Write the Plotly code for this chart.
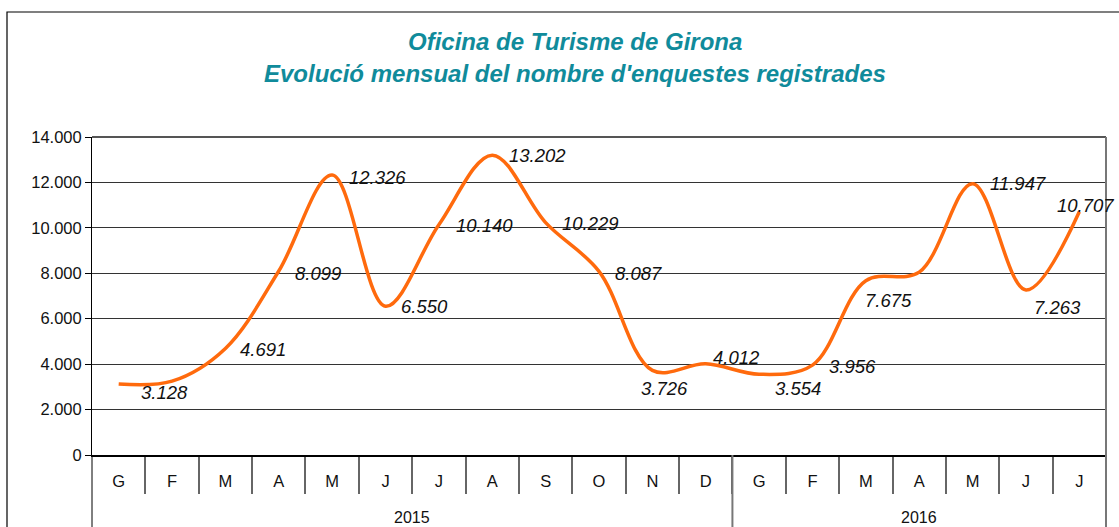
import plotly.graph_objects as go

# monthly survey counts, Jan 2015 .. Jul 2016
months = ["G", "F", "M", "A", "M", "J", "J", "A", "S", "O", "N", "D",
          "G", "F", "M", "A", "M", "J", "J"]
years = ["2015", "2016"]
year_len = [12, 7]
surveys = [3128, 3250, 4691, 8099, 12326, 6550, 10140, 13202, 10229, 8087, 3726, 4012,
           3554, 3956, 7675, 8050, 11947, 7263, 10707]
labels = ["3.128", "", "4.691", "8.099", "12.326", "6.550", "10.140", "13.202", "10.229",
          "8.087", "3.726", "4.012", "3.554", "3.956", "7.675", "", "11.947", "7.263", "10.707"]

# label offsets in px (style only)
label_shift = [(46, -9), (0, 0), (38, -1), (39, -2), (45, -2), (39, 0), (46, -1), (45, 0),
               (45, -1), (39, -2), (12, -18), (31, 6), (39, -14), (40, -1), (23, -20),
               (0, 0), (45, 0), (32, -17), (6, 6)]

W, H = 1119, 527
ML, MR, MT, MB = 92, 13, 137, 72
PW, PH = W - ML - MR, H - MT - MB
n = len(surveys)
FONT = "Liberation Sans, Arial, sans-serif"
TEAL = "#108B9B"


def px_x(p):
    return (p - ML) / PW


def px_y(p):
    return (H - MB - p) / PH


fig = go.Figure()
fig.add_trace(go.Scatter(
    x=list(range(n)), y=surveys, mode="lines",
    line=dict(color="#FF6A0D", width=3.5, shape="spline", smoothing=1.0),
    hoverinfo="skip", showlegend=False,
))

for i, (t, (dx, dy)) in enumerate(zip(labels, label_shift)):
    if not t:
        continue
    fig.add_annotation(x=i, y=surveys[i], text=t, showarrow=False,
                       xshift=dx, yshift=dy, xanchor="center", yanchor="middle",
                       font=dict(family=FONT, size=18.5, color="#111", style="italic"))

# year labels + group dividers
start = 0
for yr, ln in zip(years, year_len):
    mid = (start + (start + ln)) / 2
    fig.add_annotation(x=mid / n, xref="paper", y=0, yref="paper", yshift=-62,
                       text=yr, showarrow=False, xanchor="center", yanchor="middle",
                       font=dict(family=FONT, size=16, color="#111"))
    start += ln
    if start < n:
        fig.add_shape(type="line", xref="paper", yref="paper",
                      x0=start / n, x1=start / n, y0=0, y1=px_y(H + 5),
                      line=dict(color="#777", width=2))

# plot-area top/right edges and outer chart frame
fig.add_shape(type="line", xref="paper", yref="paper", x0=0, x1=1, y0=1, y1=1,
              line=dict(color="#555", width=2))
fig.add_shape(type="line", xref="paper", yref="paper", x0=1, x1=1, y0=1, y1=px_y(H + 5),
              line=dict(color="#777", width=2))
fig.add_shape(type="line", xref="paper", yref="paper", x0=0, x1=0, y0=0, y1=px_y(H + 5),
              line=dict(color="#000", width=1))
fig.add_shape(type="rect", xref="paper", yref="paper",
              x0=px_x(7), x1=px_x(W + 10), y0=px_y(H + 10), y1=px_y(12),
              line=dict(color="#000", width=1.2))

fig.add_annotation(x=px_x(575), xref="paper", y=px_y(42), yref="paper",
                   text="<b><i>Oficina de Turisme de Girona</i></b>", showarrow=False,
                   xanchor="center", yanchor="middle", font=dict(family=FONT, size=24, color=TEAL))
fig.add_annotation(x=px_x(575), xref="paper", y=px_y(73), yref="paper",
                   text="<b><i>Evolució mensual del nombre d'enquestes registrades</i></b>",
                   showarrow=False, xanchor="center", yanchor="middle",
                   font=dict(family=FONT, size=24, color=TEAL))

fig.update_layout(
    width=W, height=H,
    margin=dict(l=ML, r=MR, t=MT, b=MB),
    paper_bgcolor="white", plot_bgcolor="white",
    separators=",.",
    showlegend=False,
    font=dict(family=FONT, color="#111"),
)
fig.update_xaxes(
    range=[-0.5, n - 0.5], tickmode="array", tickvals=list(range(n)), ticktext=months,
    ticks="", ticklabelstandoff=10, tickfont=dict(size=16.5, color="#111"),
    showgrid=False, zeroline=False, showline=True, linecolor="#000", linewidth=1.5,
    minor=dict(tickmode="array", tickvals=[i + 0.5 for i in range(n - 1)],
               ticks="outside", ticklen=37, tickcolor="#666", tickwidth=1.5, showgrid=False),
)
fig.update_yaxes(
    range=[0, 14000], dtick=2000, tickformat=",d",
    ticks="outside", ticklen=6, tickcolor="#000",
    tickfont=dict(size=16.5, color="#111"),
    showgrid=True, gridcolor="#333", gridwidth=1,
    zeroline=False, showline=True, linecolor="#000", linewidth=1,
)

fig.write_html("out.html", config={"displayModeBar": False},
               post_script="document.body.style.margin='0';")
